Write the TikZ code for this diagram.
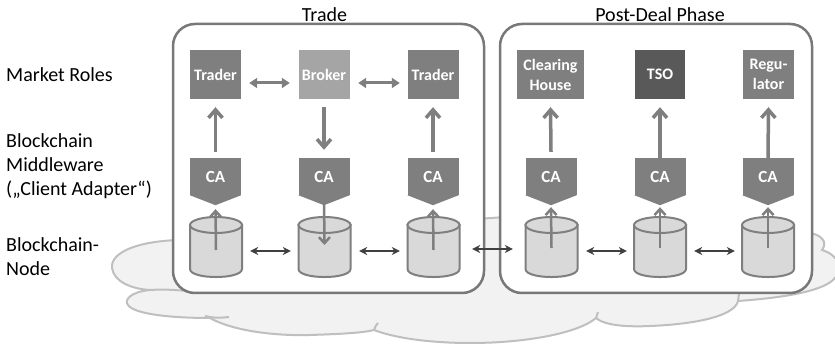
\documentclass[tikz,border=0pt]{standalone}
\usepackage{fontspec}
\setmainfont{Carlito}
\usetikzlibrary{arrows.meta,calc}

\definecolor{framegray}{HTML}{787878}
\definecolor{rolegray}{HTML}{7F7F7F}
\definecolor{brokergray}{HTML}{A5A5A5}
\definecolor{tsogray}{HTML}{595959}
\definecolor{cylfill}{HTML}{D9D9D9}
\definecolor{cloudfill}{HTML}{F2F2F2}
\definecolor{cloudline}{HTML}{BFBFBF}
\definecolor{darklink}{HTML}{404040}

\begin{document}
\begin{tikzpicture}[x=1pt,y=-1pt,
  container/.style={draw=framegray, line width=2.5pt, fill=white, rounded corners=22pt, inner sep=0pt},
  phasetitle/.style={font=\fontsize{20}{24}\selectfont, inner sep=0pt},
  layerlabel/.style={font=\fontsize{20}{24}\selectfont, align=left, anchor=west, inner sep=0pt},
  rolebox/.style={fill=rolegray, text=white, font=\bfseries\fontsize{16}{20}\selectfont,
    minimum width=51pt, minimum height=49pt, inner sep=0pt, align=center},
  cabox/.style={fill=rolegray, text=white, font=\bfseries\fontsize{17}{20}\selectfont,
    minimum width=51pt, minimum height=37pt, inner sep=0pt},
  cylbox/.style={minimum width=52pt, minimum height=60pt, inner sep=0pt},
  cylshape/.style={fill=cylfill, draw=rolegray, line width=2pt},
  cloudshape/.style={fill=cloudfill, draw=cloudline, line width=2pt},
  crease/.style={draw=cloudline, line width=2pt},
  rolelink/.style={draw=rolegray, line width=3.5pt, -{Straight Barb[length=8pt,width=14pt]}},
  peerlink/.style={draw=rolegray, line width=3pt,
    {Triangle[length=8pt,width=10pt]}-{Triangle[length=8pt,width=10pt]}},
  nodelink/.style={draw=rolegray, line width=2.5pt, -{Straight Barb[length=6pt,width=11pt]}},
  chainlink/.style={draw=darklink, line width=1.3pt,
    {Stealth[length=8pt,width=8pt]}-{Stealth[length=8pt,width=8pt]}},
]
\useasboundingbox (0,0) rectangle (835,344);

% cloud underneath the two phases
\path[cloudshape] (200,240)
  .. controls (140,238) and (110,252) .. (112,268)
  .. controls (114,282) and (132,289) .. (150,290)
  .. controls (130,292) and (124,300) .. (128,305)
  .. controls (134,314) and (170,318) .. (210,318)
  .. controls (235,332) and (280,336) .. (310,335)
  .. controls (340,334) and (362,333) .. (374,330)
  .. controls (400,340) and (440,343) .. (470,343)
  .. controls (530,343) and (580,332) .. (596,318)
  .. controls (605,326) and (630,327) .. (650,326)
  .. controls (700,324) and (735,315) .. (738,301)
  .. controls (780,298) and (820,292) .. (833,280)
  .. controls (845,268) and (838,255) .. (822,250)
  .. controls (828,242) and (822,234) .. (805,232)
  .. controls (700,215) and (560,212) .. (492,218)
  .. controls (420,222) and (250,235) .. (200,240) -- cycle;
\path[crease] (150,290) .. controls (165,289) and (180,290) .. (195,292);
\path[crease] (205,316) .. controls (212,318) and (220,318) .. (229,317);
\path[crease] (374,330) .. controls (375,327) and (376,325) .. (378,323);
\path[crease] (596,318) -- (598,312);
\path[crease] (738,301) -- (739,294);

% phase frames
\node[container, minimum width=311pt, minimum height=269pt] (trade) at (328.5,158.5) {};
\node[container, minimum width=312pt, minimum height=269pt] (post) at (656,158.5) {};
\node[phasetitle] (ttrade) at (324.5,15) {Trade};
\node[phasetitle] (tpost) at (660,15) {Post-Deal Phase};

% blockchain nodes
\foreach \cn/\cx in {c1/216, c2/324.5, c3/433.5, c4/551.5, c5/660, c6/768} {
  \node[cylbox] (\cn) at (\cx,247) {};
  \path[cylshape] (\cx-26,225) -- (\cx-26,269)
    .. controls (\cx-26,279.7) and (\cx+26,279.7) .. (\cx+26,269)
    -- (\cx+26,225) -- cycle;
  \path[cylshape] (\cx,225) ellipse[x radius=26, y radius=8];
}

% client adapters
\foreach \cn/\cx in {a1/215.5, a2/324, a3/433, a4/551, a5/660, a6/768} {
  \node[cabox] (\cn) at (\cx,176.5) {\raisebox{-2.5pt}{CA}};
  \fill[rolegray] (\cn.south west) -- (\cn.south east) -- ([yshift=-10pt]\cn.south) -- cycle;
  \coordinate (\cn t) at ([yshift=-10pt]\cn.south);
}

% market roles
\node[rolebox] (r1) at (215.5,74.5) {Trader};
\node[rolebox, fill=brokergray] (r2) at (324,74.5) {Broker};
\node[rolebox] (r3) at (433,74.5) {Trader};
\node[rolebox, minimum width=67pt] (r4) at (550.5,74.5) {Clearing\\House};
\node[rolebox, fill=tsogray, minimum width=50pt] (r5) at (660,74.5) {TSO};
\node[rolebox] (r6) at (768.5,74.5) {Regu-\\lator};

% adapter <-> role
\draw[rolelink] ([yshift=6pt]a1.north) -- ([yshift=-8pt]r1.south);
\draw[rolelink] ([yshift=-8pt]r2.south) -- ([yshift=8pt]a2.north);
\draw[rolelink] ([yshift=6pt]a3.north) -- ([yshift=-8pt]r3.south);
\draw[rolelink] ([yshift=6pt]a4.north) -- ([yshift=-8pt]r4.south);
\draw[rolelink] (a5.north) -- ([yshift=-8pt]r5.south);
\draw[rolelink] (a6.north) -- ([yshift=-8pt]r6.south);

% trading partners
\draw[peerlink] ([xshift=8pt,yshift=-8.5pt]r1.east) -- ([xshift=-8.5pt,yshift=-8.5pt]r2.west);
\draw[peerlink] ([xshift=8.5pt,yshift=-8.5pt]r2.east) -- ([xshift=-7.5pt,yshift=-8.5pt]r3.west);

% node <-> adapter
\draw[nodelink] ([yshift=-3pt]c1.center) -- ([yshift=-4pt]a1t);
\draw[nodelink] ([yshift=8pt]a2t) -- ([yshift=2pt]c2.center);
\draw[nodelink] ([yshift=-3pt]c3.center) -- ([yshift=-4pt]a3t);
\draw[nodelink] ([yshift=-1pt]c4.center) -- ([yshift=-2pt]a4t);
\draw[nodelink] ([yshift=-1pt]c5.center) -- ([yshift=-2pt]a5t);
\draw[nodelink] ([yshift=-1pt]c6.center) -- ([yshift=-2pt]a6t);

% peer-to-peer chain network
\draw[chainlink] ([xshift=8pt,yshift=-4pt]c1.east) -- ([xshift=-7.5pt,yshift=-4pt]c2.west);
\draw[chainlink] ([xshift=8.5pt,yshift=-4pt]c2.east) -- ([xshift=-7.5pt,yshift=-4pt]c3.west);
\draw[chainlink] ([xshift=12.5pt,yshift=-2pt]c3.east) -- ([xshift=-12.5pt,yshift=-2pt]c4.west);
\draw[chainlink] ([xshift=8.5pt,yshift=-4pt]c4.east) -- ([xshift=-7pt,yshift=-4pt]c5.west);
\draw[chainlink] ([xshift=8pt,yshift=-4pt]c5.east) -- ([xshift=-7pt,yshift=-4pt]c6.west);

% layer captions
\node[layerlabel] (lroles) at (6,75) {Market Roles};
\node[layerlabel] (lmid) at (6,166) {Blockchain\\Middleware\\(„Client Adapter“)};
\node[layerlabel] (lnode) at (6,256.5) {Blockchain-\\Node};
\end{tikzpicture}
\end{document}
